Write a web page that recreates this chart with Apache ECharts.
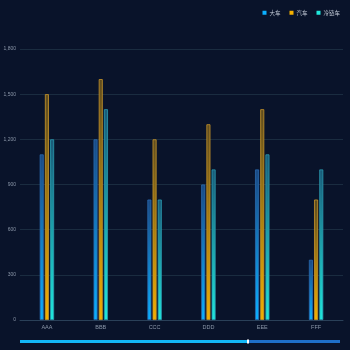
<!DOCTYPE html>
<html><head><meta charset="utf-8">
<script src="https://cdn.jsdelivr.net/npm/echarts@6/dist/echarts.min.js"></script>
<style>html,body{margin:0;padding:0;background:#09132a;}#c{width:350px;height:350px;}</style>
</head><body><div id="c"></div>
<script>
const categories = ['AAA','BBB','CCC','DDD','EEE','FFF'];
const seriesNames = ['大车','汽车','冷链车'];
const bigTruck = [1100,1200,800,900,1000,400];
const car = [1500,1600,1200,1300,1400,800];
const coldChain = [1200,1400,800,1000,1100,1000];
const yTicks = [0,300,600,900,1200,1500,1800];

const colors = [
  ['#0bb0ff','#1a4a84','#2a6ab0'],
  ['#f5b000','#5e4c20','#c8952a'],
  ['#20e8dc','#1a5a78','#2a9ab0']
];
function grad(c){
  return new echarts.graphic.LinearGradient(0,0,0,1,[{offset:0,color:c[1]},{offset:1,color:c[0]}]);
}
const data = [bigTruck, car, coldChain];
const chart = echarts.init(document.getElementById('c'));
chart.setOption({
  backgroundColor:'#09132a',
  animation:false,
  legend:{
    top:5,right:5,itemWidth:4,itemHeight:4,itemGap:9,icon:'rect',
    textStyle:{color:'#c8d0dc',fontSize:5.5,fontFamily:'Noto Sans CJK SC',padding:[0,0,0,-2]},
    data:seriesNames.map((n,i)=>({name:n,itemStyle:{color:colors[i][0],borderWidth:0}}))
  },
  grid:{left:20,right:7,top:49,bottom:30,containLabel:false},
  xAxis:{type:'category',data:categories,
    axisLine:{lineStyle:{color:'#2a4058'}},axisTick:{show:false},
    axisLabel:{color:'#8a96a8',fontSize:5.5,margin:4}},
  yAxis:{type:'value',min:yTicks[0],max:yTicks[yTicks.length-1],interval:300,
    axisLabel:{color:'#8a96a8',fontSize:5,margin:4,formatter:v=>v.toLocaleString('en-US')},
    axisLine:{show:false},axisTick:{show:false},
    splitLine:{lineStyle:{color:'#1a2c40',width:1}}},
  series:data.map((d,i)=>({
    name:seriesNames[i],type:'bar',data:d,barWidth:4,barGap:'30%',
    itemStyle:{color:grad(colors[i]),borderColor:colors[i][2],borderWidth:0.8}
  })),
  graphic:[
    {type:'rect',shape:{x:20,y:340,width:320,height:3},style:{fill:'#1e6fc8'}},
    {type:'rect',shape:{x:20,y:340,width:228,height:3},style:{fill:'#12b8f8'}},
    {type:'rect',shape:{x:247,y:339.5,width:2,height:4},style:{fill:'#ffffff'}}
  ]
});
</script></body></html>
